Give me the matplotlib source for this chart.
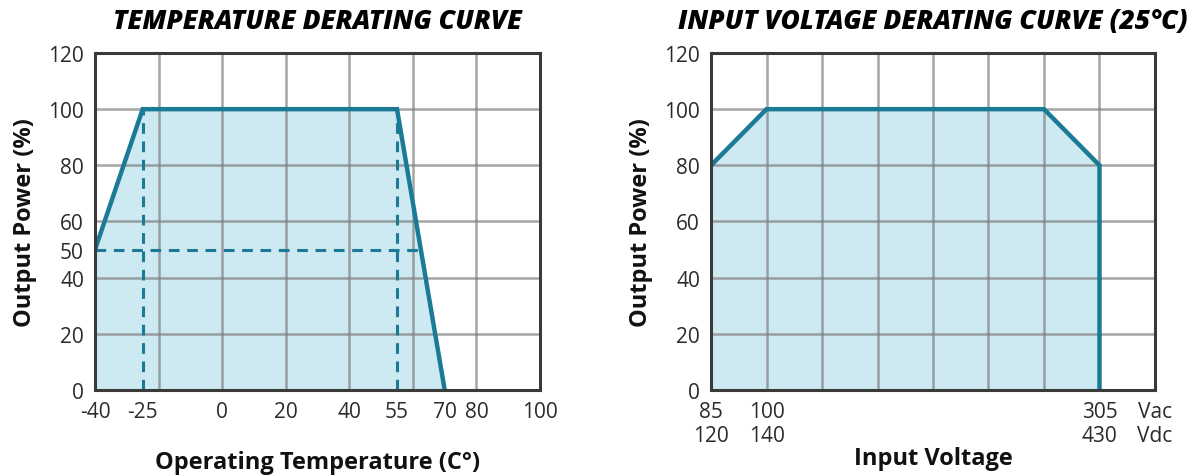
import matplotlib.pyplot as plt

plt.rcParams['font.family'] = ['Open Sans', 'DejaVu Sans']
plt.rcParams['axes.unicode_minus'] = False

# temperature derating data
temp_x = [-40, -25, 55, 70]
temp_power = [50, 100, 100, 0]
temp_ticks = [-40, -25, 0, 20, 40, 55, 70, 80, 100]
temp_grid = [-20, 0, 20, 40, 60, 80]
power_ticks = [0, 20, 40, 50, 60, 80, 100, 120]
power_grid = [20, 40, 60, 80, 100]
half_load_x = [-40, 62.5]   # dashed 50 % guide

# input voltage derating data (category positions along the axis)
volt_pos = [0, 1, 6, 7, 7]
volt_power = [80, 100, 100, 80, 0]
volt_tick_pos = [0, 1, 7, 8]
volt_tick_labels = ['85\n120', '100\n140', '305\n430', 'Vac\nVdc']
volt_power_ticks = [0, 20, 40, 60, 80, 100, 120]

line_c = '#1b7a96'
fill_c = '#cde9f1'
grid_c = '#7f7f7f'
text_c = '#2b2b2b'

fig = plt.figure(figsize=(11.98, 4.77), dpi=100)
ax1 = fig.add_axes([0.0793, 0.1803, 0.3715, 0.7065])
ax2 = fig.add_axes([0.5935, 0.1803, 0.3706, 0.7065])


def style(ax):
    for s in ax.spines.values():
        s.set_color('#3a3a3a')
        s.set_linewidth(2.2)
        s.set_zorder(6)
    ax.tick_params(length=0, labelsize=15, colors=text_c, pad=8)
    ax.set_ylabel('Output Power (%)', fontsize=17, fontweight='bold',
                  color='#111111', labelpad=8)


dash = (0, (3.5, 2.5))

# left chart
ax1.fill_between(temp_x, temp_power, 0, color=fill_c, zorder=1, lw=0)
for g in temp_grid:
    ax1.axvline(g, color=grid_c, alpha=0.7, lw=1.8, zorder=2)
for g in power_grid:
    ax1.axhline(g, color=grid_c, alpha=0.7, lw=1.8, zorder=2)
ax1.plot(temp_x, temp_power, color=line_c, lw=3.2, zorder=5, solid_joinstyle='miter')
ax1.plot([temp_x[1], temp_x[1]], [0, 100], color=line_c, lw=2.2, ls=dash, zorder=4)
ax1.plot([temp_x[2], temp_x[2]], [0, 100], color=line_c, lw=2.2, ls=dash, zorder=4)
ax1.plot(half_load_x, [50, 50], color=line_c, lw=2.2, ls=dash, zorder=4)
ax1.set_xlim(-40, 100)
ax1.set_ylim(0, 120)
ax1.set_xticks(temp_ticks)
ax1.set_yticks(power_ticks)
style(ax1)
ax1.set_xlabel('Operating Temperature (C°)', fontsize=17, fontweight='bold',
               color='#111111', labelpad=20)
ax1.set_title('TEMPERATURE DERATING CURVE', fontsize=19, fontweight='heavy',
              style='italic', pad=18)

# right chart
ax2.fill_between(volt_pos, volt_power, 0, color=fill_c, zorder=1, lw=0)
for g in range(1, 8):
    ax2.axvline(g, color=grid_c, alpha=0.7, lw=1.8, zorder=2)
for g in power_grid:
    ax2.axhline(g, color=grid_c, alpha=0.7, lw=1.8, zorder=2)
ax2.plot(volt_pos, volt_power, color=line_c, lw=3.2, zorder=5, solid_joinstyle='miter')
ax2.set_xlim(0, 8)
ax2.set_ylim(0, 120)
ax2.set_xticks(volt_tick_pos)
ax2.set_xticklabels(volt_tick_labels, linespacing=1.2)
ax2.set_yticks(volt_power_ticks)
style(ax2)
ax2.set_xlabel('Input Voltage', fontsize=17, fontweight='bold',
               color='#111111', labelpad=0)
ax2.set_title('INPUT VOLTAGE DERATING CURVE (25°C)', fontsize=19,
              fontweight='heavy', style='italic', pad=18)

fig.savefig('out.png', dpi=100)
